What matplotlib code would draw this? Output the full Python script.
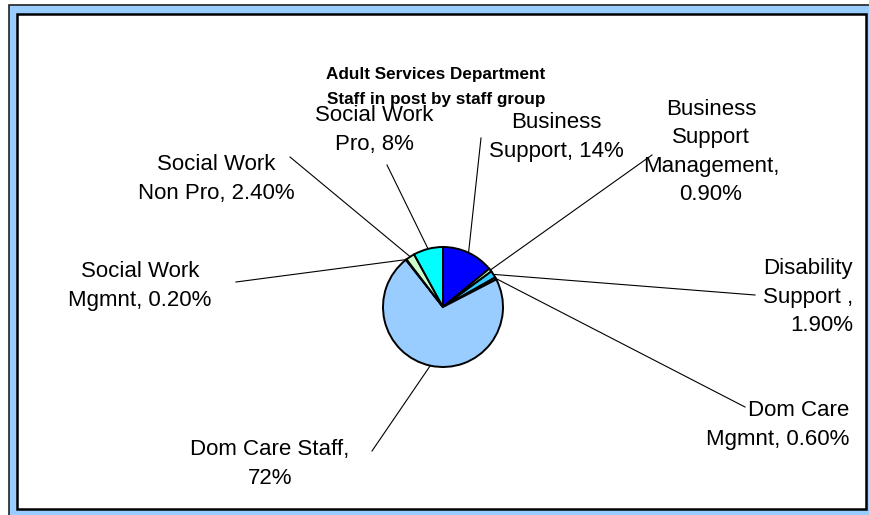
import numpy as np
import matplotlib
matplotlib.use('Agg')
import matplotlib.pyplot as plt
from matplotlib.patches import Rectangle

plt.rcParams['font.family'] = ['Liberation Sans', 'DejaVu Sans']

# Staff groups in post, clockwise from 12 o'clock
groups = ['Business\nSupport, 14%',
          'Business\nSupport\nManagement,\n0.90%',
          'Disability\nSupport ,\n1.90%',
          'Dom Care\nMgmnt, 0.60%',
          'Dom Care Staff,\n72%',
          'Social Work\nMgmnt, 0.20%',
          'Social Work\nNon Pro, 2.40%',
          'Social Work\nPro, 8%']
shares = [14, 0.9, 1.9, 0.6, 72, 0.2, 2.4, 8]
colours = ['#0000FF', '#CCFFCC', '#33CCFF', '#CCFFCC',
           '#99CCFF', '#CCFFFF', '#CCFFCC', '#00FFFF']

W, H = 869, 515
fig = plt.figure(figsize=(W / 100, H / 100), dpi=100)
ax = fig.add_axes([0, 0, 1, 1])

def Y(y):
    # pixel rows counted from the top
    return H - y

# frame: blue border with a white inner panel
ax.add_patch(Rectangle((8.5, Y(515 + 5)), 870, 515 + 5 - 4.5, facecolor='#99CCFF',
                       edgecolor='#222222', linewidth=1.2, zorder=0))
ax.add_patch(Rectangle((16.5, Y(509)), 866 - 16.5, 509 - 13.5, facecolor='white',
                       edgecolor='black', linewidth=1.8, zorder=1))

cx, cy, r = 443, 307, 60
wedges, _ = ax.pie(shares, colors=colours, startangle=90, counterclock=False,
                   center=(cx, Y(cy)), radius=r,
                   wedgeprops=dict(edgecolor='black', linewidth=1.4))
for w in wedges:
    w.set_zorder(3)

ax.set_xlim(0, W)
ax.set_ylim(0, H)
ax.set_aspect('equal')
ax.axis('off')

ax.text(436, Y(87), 'Adult Services Department\nStaff in post by staff group',
        ha='center', va='center', fontsize=12.3, fontweight='bold',
        linespacing=1.78, zorder=4)

# label block centre, alignment, and where its leader line stops
layout = [
    ((556, 137), 'center', (481, 138)),
    ((711, 152), 'center', (652, 155)),
    ((853, 297), 'right', (755, 295)),
    ((849, 425), 'right', (745, 407)),
    ((270, 464), 'center', (372, 451)),
    ((140, 286), 'center', (236, 282)),
    ((216, 179), 'center', (290, 157)),
    ((374, 130), 'center', (387, 165)),
]

for w, lab, (pos, ha, end) in zip(wedges, groups, layout):
    mid = np.deg2rad((w.theta1 + w.theta2) / 2)
    ex = cx + r * np.cos(mid)
    ey = Y(cy) + r * np.sin(mid)
    ax.plot([ex, end[0]], [ey, Y(end[1])], color='black', linewidth=0.8, zorder=2)
    ax.text(pos[0], Y(pos[1]), lab, ha=ha, va='center', fontsize=16,
            linespacing=1.45, multialignment=ha, zorder=4)

fig.savefig('out.png', dpi=100)
